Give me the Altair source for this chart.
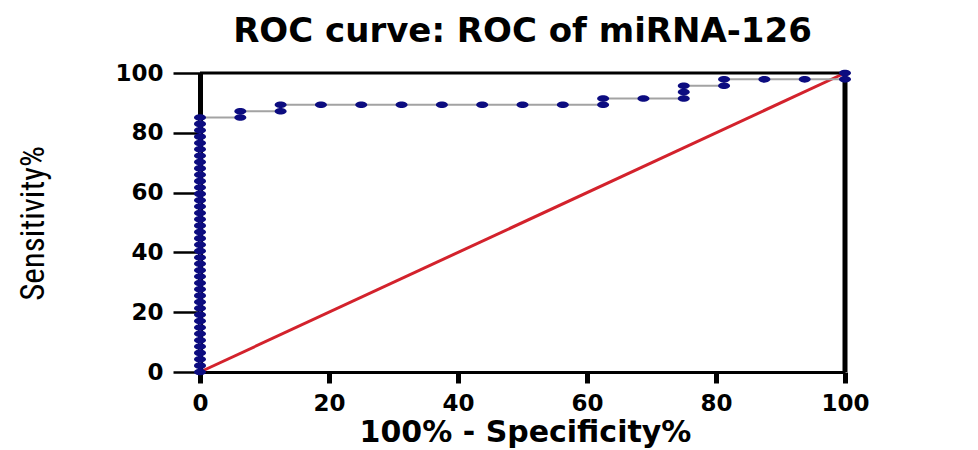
import altair as alt
import pandas as pd

# ROC curve points (100% - Specificity%, Sensitivity%)
fpr = [0, 0, 0, 0, 0, 0, 0, 0, 0, 0,
       0, 0, 0, 0, 0, 0, 0, 0, 0, 0,
       0, 0, 0, 0, 0, 0, 0, 0, 0, 0,
       0, 0, 0, 0, 0, 0, 0, 0, 0, 0,
       0,
       6.25, 6.25, 12.5, 12.5, 18.75, 25, 31.25, 37.5, 43.75, 50, 56.25,
       62.5, 62.5, 68.75, 75, 75, 75, 81.25, 81.25, 87.5, 93.75, 100, 100]
tpr = [0.00, 2.13, 4.26, 6.38, 8.51, 10.64, 12.77, 14.89, 17.02, 19.15,
       21.28, 23.40, 25.53, 27.66, 29.79, 31.91, 34.04, 36.17, 38.30, 40.43,
       42.55, 44.68, 46.81, 48.94, 51.06, 53.19, 55.32, 57.45, 59.57, 61.70,
       63.83, 65.96, 68.09, 70.21, 72.34, 74.47, 76.60, 78.72, 80.85, 82.98,
       85.11,
       85.11, 87.23, 87.23, 89.36, 89.36, 89.36, 89.36, 89.36, 89.36, 89.36, 89.36,
       89.36, 91.49, 91.49, 91.49, 93.62, 95.74, 95.74, 97.87, 97.87, 97.87, 97.87, 100.0]

diag_x = [0, 100]
diag_y = [0, 100]
ticks = [0, 20, 40, 60, 80, 100]

df = pd.DataFrame({"fpr": fpr, "tpr": tpr, "order": list(range(len(fpr)))})
diag_df = pd.DataFrame({"fpr": diag_x, "tpr": diag_y})
one = pd.DataFrame({"k": [0]})

xs = alt.Scale(domain=[0, 100], nice=False, zero=False)
ys = alt.Scale(domain=[0, 100], nice=False, zero=False)

xaxis = alt.Axis(
    title="100% - Specificity%", values=ticks, grid=False,
    domainColor="black", domainWidth=3, tickColor="black", tickWidth=5, tickSize=11,
    labelFont="DejaVu Sans", labelFontWeight="bold", labelFontSize=23, labelColor="black",
    labelPadding=9, labelFlush=False,
    titleFont="DejaVu Sans", titleFontWeight="bold", titleFontSize=30, titleColor="black",
    titleX=325, titleY=69, titleBaseline="alphabetic", titleAlign="center",
)
yaxis = alt.Axis(
    title="Sensitivity%", values=ticks, grid=False,
    domainColor="black", domainWidth=5, tickColor="black", tickWidth=2.5, tickSize=27,
    labelFont="DejaVu Sans", labelFontWeight="bold", labelFontSize=23, labelColor="black",
    labelPadding=10, labelFlush=False,
    titleFont="Liberation Sans Narrow, Roboto Condensed, Roboto", titleFontWeight="normal",
    titleFontSize=33, titleColor="black",
    titleX=-167, titleY=150, titleBaseline="middle", titleAlign="center", titleAngle=-90,
)

diag = alt.Chart(diag_df).mark_line(color="#d3222c", strokeWidth=3).encode(
    x=alt.X("fpr:Q", scale=xs, axis=xaxis),
    y=alt.Y("tpr:Q", scale=ys, axis=yaxis),
)

top_rule = alt.Chart(one).mark_rule(color="black", strokeWidth=3).encode(
    x=alt.datum(0), x2=alt.datum(100), y=alt.datum(100)
)
right_rule = alt.Chart(one).mark_rule(color="black", strokeWidth=5).encode(
    x=alt.datum(100), y=alt.datum(0), y2=alt.datum(100)
)

line = alt.Chart(df).mark_line(color="#a3a3a3", strokeWidth=2).encode(
    x="fpr:Q", y="tpr:Q", order="order:Q"
)

ellipse = "M-1,0A1,0.55,0,1,0,1,0A1,0.55,0,1,0,-1,0Z"
points = alt.Chart(df).mark_point(
    shape=ellipse, filled=True, size=144, color="#0c0c80", opacity=1
).encode(x="fpr:Q", y="tpr:Q")

chart = alt.layer(diag, top_rule, right_rule, line, points).properties(
    width=645, height=299,
    title=alt.TitleParams(
        "ROC curve: ROC of miRNA-126", font="DejaVu Sans", fontSize=34,
        fontWeight="bold", color="black", anchor="middle", offset=28, dy=42,
        baseline="alphabetic",
    ),
    autosize=alt.AutoSizeParams(type="none"),
    padding={"left": 192, "top": 65, "right": 125, "bottom": 78},
).configure_view(stroke=None).configure(background="white")

chart.save("out.html", embed_options={"renderer": "svg", "actions": False})
